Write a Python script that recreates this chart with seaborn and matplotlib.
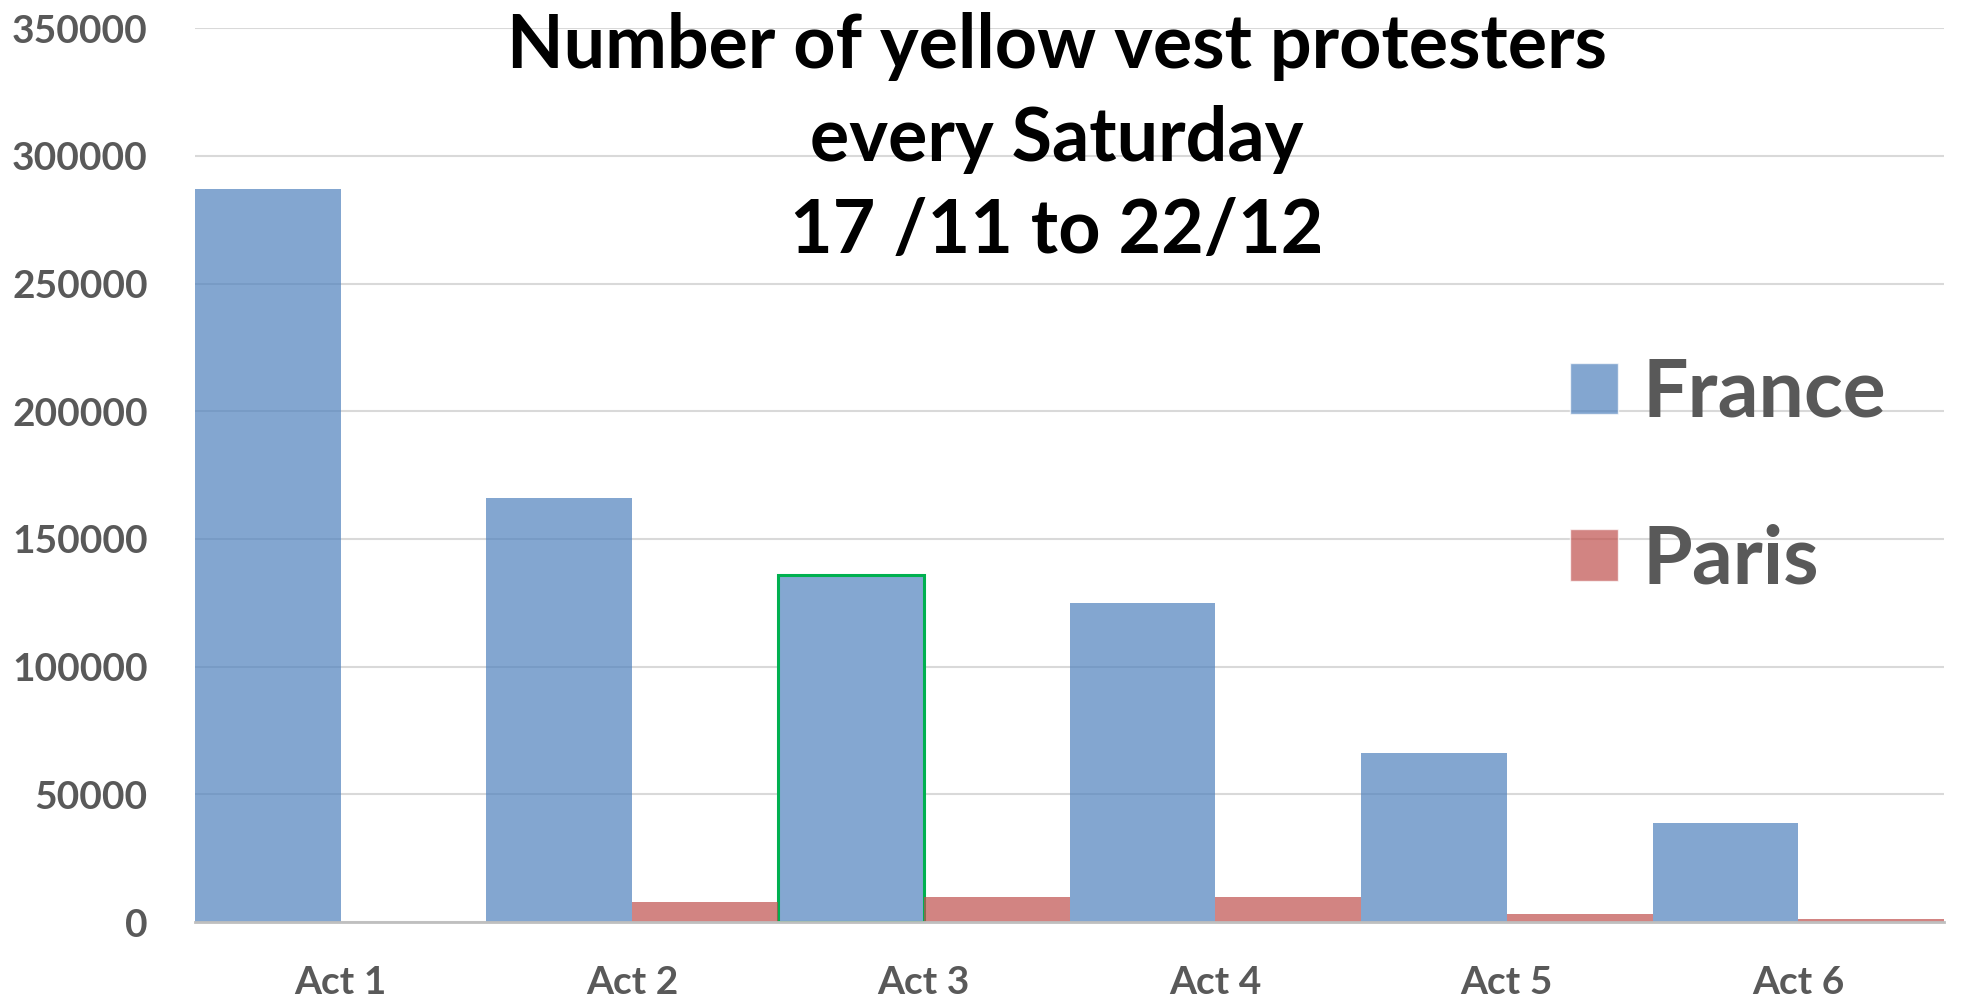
import pandas as pd
import matplotlib.pyplot as plt
import seaborn as sns
from matplotlib.patches import Patch

# ============================================
# Data
# ============================================
acts = ["Act 1", "Act 2", "Act 3", "Act 4", "Act 5", "Act 6"]
france = [287000, 166000, 136000, 125000, 66000, 38600]
paris = [0, 8000, 10000, 10000, 3000, 1200]
regions = ["France", "Paris"]

df = pd.DataFrame({
    "act": acts * 2,
    "count": france + paris,
    "region": ["France"] * len(acts) + ["Paris"] * len(acts),
})

# ============================================
# Style
# ============================================
sns.set_style("white")
plt.rcParams["font.family"] = ["Lato", "DejaVu Sans"]
TEXT_GREY = "#595959"
BLUE = "#4F81BD"
RED = "#C0504D"

fig = plt.figure(figsize=(19.61, 10.02), dpi=100)
ax = fig.add_axes([0.0994, 0.0798, 0.892, 0.892])

sns.barplot(data=df, x="act", y="count", hue="region",
            hue_order=regions, palette=[BLUE, RED],
            width=1.0, alpha=0.7, saturation=1, legend=False,
            linewidth=0, ax=ax, zorder=2)

# Act 3 France bar is outlined in green
bar = ax.containers[0][2]
bar.set_edgecolor("#00B050")
bar.set_linewidth(2.2)
bar.set_alpha(None)
bar.set_facecolor((0x84 / 255, 0xA7 / 255, 0xD1 / 255))

ax.set_xlim(-0.5, len(acts) - 0.5)
ax.set_ylim(0, 350000)
ax.set_yticks(range(0, 350001, 50000))
ax.set_yticklabels([str(v) for v in range(0, 350001, 50000)])
ax.set_xlabel("")
ax.set_ylabel("")

ax.yaxis.grid(True, color="#D9D9D9", linewidth=1.5, zorder=0)
ax.set_axisbelow(True)
for side in ["top", "right", "left"]:
    ax.spines[side].set_visible(False)
ax.spines["bottom"].set_color("#BFBFBF")
ax.spines["bottom"].set_linewidth(2)
ax.spines["bottom"].set_zorder(3)

ax.tick_params(axis="y", length=0, pad=34, labelsize=28, labelcolor=TEXT_GREY)
ax.tick_params(axis="x", length=0, pad=31, labelsize=28, labelcolor=TEXT_GREY)
for lbl in ax.get_xticklabels() + ax.get_yticklabels():
    lbl.set_fontweight("bold")

# Title sits inside the plot area
fig.text(0.539, 0.988,
         "Number of yellow vest protesters\nevery Saturday\n17 /11 to 22/12",
         ha="center", va="top", fontsize=53, fontweight="bold",
         color="black", linespacing=1.42)

# Legend
handles = [Patch(facecolor=BLUE, alpha=0.7, label="France"),
           Patch(facecolor=RED, alpha=0.7, label="Paris")]
leg = fig.legend(handles=handles, loc="upper left",
                 bbox_to_anchor=(0.8005, 0.644), frameon=False,
                 fontsize=58, handlelength=0.6, handleheight=0.6,
                 handletextpad=0.3, labelspacing=1.15,
                 borderpad=0, borderaxespad=0)
for t in leg.get_texts():
    t.set_color(TEXT_GREY)
    t.set_fontweight("bold")

plt.savefig("out.png", dpi=100)
plt.close()
